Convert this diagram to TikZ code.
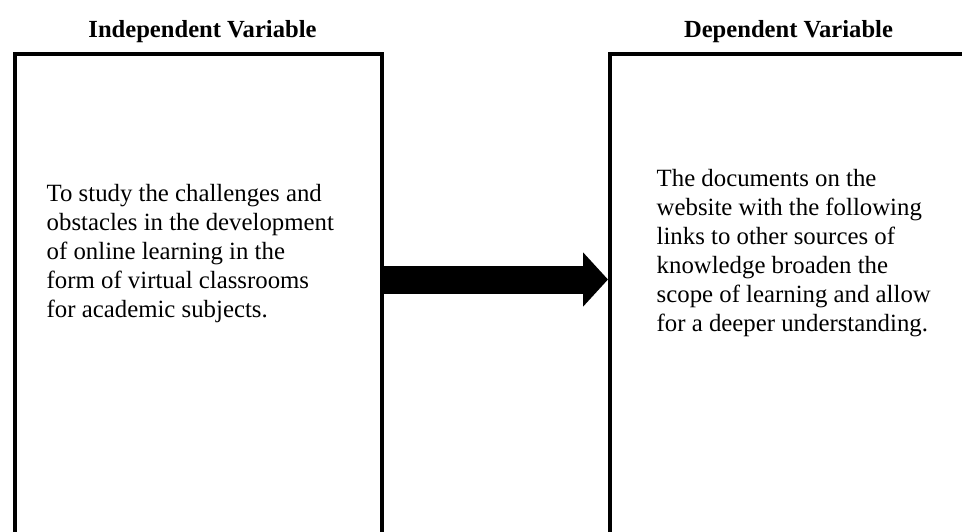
\documentclass[tikz,border=0pt]{standalone}
\usepackage{fontspec}
\setmainfont{Liberation Serif}
\usetikzlibrary{arrows.meta}
\begin{document}
\begin{tikzpicture}[x=1pt,y=-1pt,
  varbox/.style={draw=black, line width=4pt, rectangle, inner sep=0pt, anchor=north west},
  title/.style={font=\fontsize{24.6}{29}\selectfont\bfseries, inner sep=0pt, anchor=base},
  body/.style={font=\fontsize{24.8}{29}\selectfont, align=left, inner sep=0pt, anchor=base west},
  bigarrow/.style={line width=28pt, -{Triangle[width=53pt,length=25pt]}}]
\useasboundingbox (0,0) rectangle (962,531);
\clip (0,0) rectangle (962,531);
\fill[white] (0,0) rectangle (962,531);
\node[varbox, minimum width=367pt, minimum height=520pt] (left) at (13,52) {};
\node[varbox, minimum width=380pt, minimum height=520pt] (right) at (608,52) {};
\node[title] (ltitle) at (202.5,37.5) {Independent Variable};
\node[title] (rtitle) at (788.5,37.5) {Dependent Variable};
\node[body] (ltext) at (46.5,317) {To study the challenges and\\obstacles in the development\\of online learning in the\\form of virtual classrooms\\for academic subjects.};
\node[body] (rtext) at (656.5,331) {The documents on the\\website with the following\\links to other sources of\\knowledge broaden the\\scope of learning and allow\\for a deeper understanding.};
\coordinate (astart) at (left.north east |- 0,279.5);
\coordinate (aend) at (right.north west |- 0,279.5);
\draw[bigarrow] (astart) -- (aend);
\end{tikzpicture}
\end{document}
